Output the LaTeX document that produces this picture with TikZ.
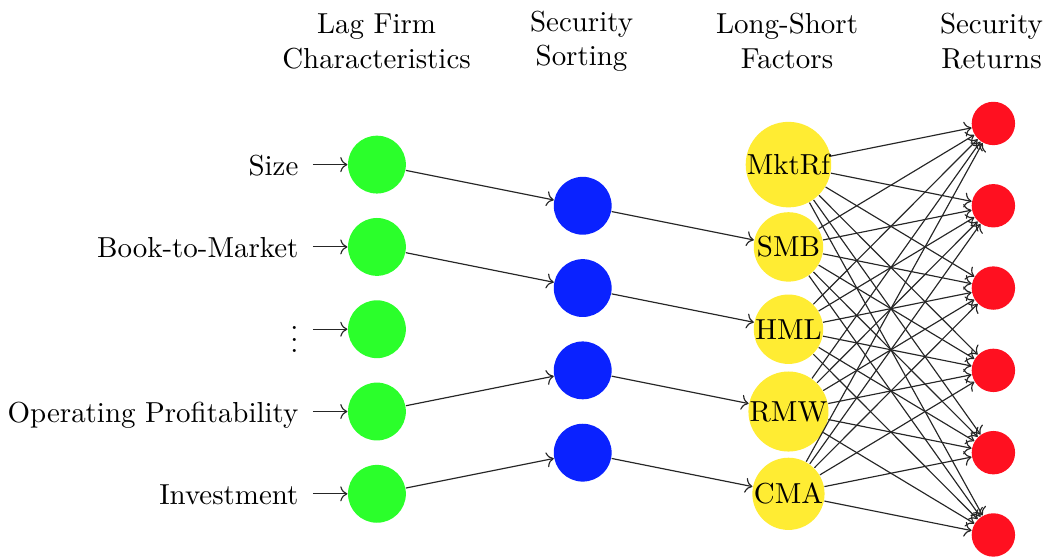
\documentclass[tikz,border=0pt]{standalone}
\definecolor{nGreen}{HTML}{2BFF2B}
\definecolor{nBlue}{HTML}{0A22FF}
\definecolor{nYellow}{HTML}{FFEC33}
\definecolor{nRed}{HTML}{FF1020}
\usepackage{amsmath, amssymb}
\usepackage{xcolor}
\usepackage{tikz}
\usetikzlibrary{positioning,arrows.meta}

\begin{document}
\begin{tikzpicture}[
  neuron/.style={circle, inner sep=0pt, minimum size=20pt},
  charnode/.style={neuron, fill=nGreen},
  sortnode/.style={neuron, fill=nBlue},
  factornode/.style={circle, inner sep=0pt, minimum size=24pt, fill=nYellow},
  retnode/.style={circle, inner sep=0pt, minimum size=15pt, fill=nRed},
  inlabel/.style={inner ysep=0pt, inner xsep=4.8pt, text height=7.6pt, text depth=0pt},
  header/.style={align=center},
  link/.style={->, black!85}]
\useasboundingbox (0,0) rectangle (12.758,-6.756);
\node[header] (h-char) at (4.575,-0.5) {Lag Firm\\Characteristics};
\node[header] (h-sort) at (7.066,-0.5) {Security\\Sorting};
\node[header] (h-fac) at (9.563,-0.5) {Long-Short\\Factors};
\node[header] (h-ret) at (12.047,-0.5) {Security\\Returns};
\foreach \i in {1,...,5} \node[charnode] (C-\i) at (4.58,-\i-1) {};
\foreach \i/\txt in {1/Size,2/Book-to-Market,4/Operating Profitability,5/Investment}
  \node[inlabel, left=0.42cm of C-\i] (L-\i) {\txt};
\node[inlabel, left=0.42cm of C-3] (L-3) {\raisebox{-4.4pt}{$\vdots$}};
\foreach \i in {1,...,4} \node[sortnode] (S-\i) at (7.08,-\i-1.5) {};
\foreach \i/\f in {1/MktRf,2/SMB,3/HML,4/RMW,5/CMA} \node[factornode] (F-\i) at (9.58,-\i-1) {\f};
\foreach \i in {1,...,6} \node[retnode] (R-\i) at (12.07,-\i-0.5) {};
\foreach \i in {1,...,5} \draw[link] (L-\i) -- (C-\i);
\foreach \c/\s in {1/1,2/2,4/3,5/4} \draw[link] (C-\c) -- (S-\s);
\foreach \s/\f in {1/2,2/3,3/4,4/5} \draw[link] (S-\s) -- (F-\f);
\foreach \f in {1,...,5} \foreach \r in {1,...,6} \draw[link] (F-\f) -- (R-\r);
\end{tikzpicture}
\end{document}
